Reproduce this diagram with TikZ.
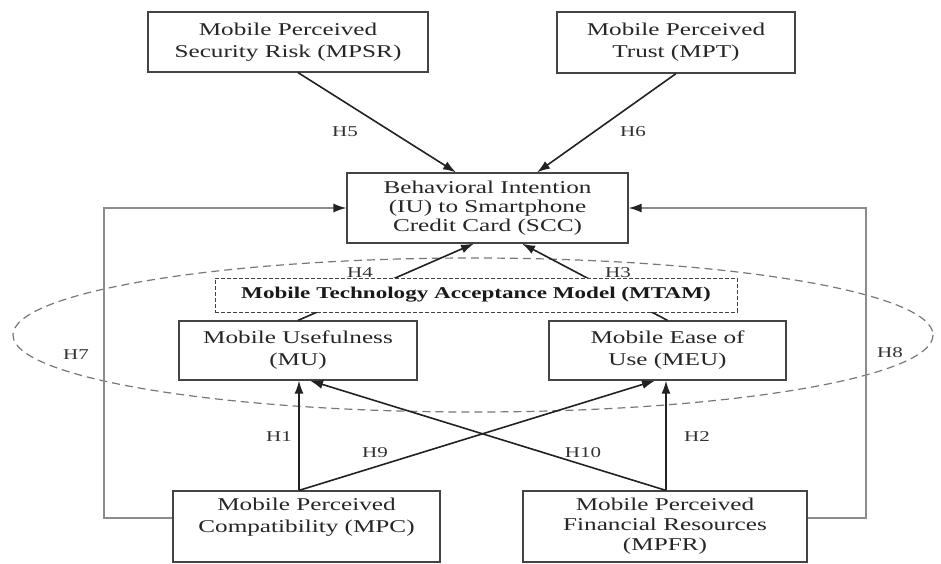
\documentclass[tikz,border=0pt]{standalone}
\usepackage{fontspec}
\setmainfont{Liberation Serif}[FakeStretch=1.4]
\usetikzlibrary{arrows.meta}
\definecolor{boxc}{HTML}{444444}
\definecolor{arrc}{HTML}{222222}
\definecolor{fbc}{HTML}{8C8C8C}
\definecolor{elc}{HTML}{777777}
\tikzset{
  box/.style={draw=boxc, line width=1.2pt, fill=white, inner sep=0pt, align=center,
    text=black!85, font=\fontsize{18}{22}\selectfont},
  arr/.style={draw=arrc, line width=1.6pt, -{Latex[length=13pt,width=9pt]}},
  fb/.style={draw=fbc, line width=1.4pt, -{Latex[length=13pt,width=9pt,color=arrc]}},
  hlab/.style={text=black!80, font=\fontsize{15}{17}\selectfont, inner sep=0pt},
  mtam/.style={draw=boxc, line width=1pt, dash pattern=on 4pt off 2pt, fill=white,
    inner sep=0pt, text=black!90, font=\bfseries\fontsize{16.5}{18}\selectfont},
}
\begin{document}
\begin{tikzpicture}[x=1pt,y=-1pt]
\useasboundingbox (0,0) rectangle (941,563);
% ellipse
\draw[elc, line width=1.2pt, dash pattern=on 8pt off 5pt] (473,335) ellipse [x radius=460, y radius=77];
% boxes
\node[box, minimum width=280pt, minimum height=60pt] (MPSR) at (288,42) {Mobile Perceived\\Security Risk (MPSR)};
\node[box, minimum width=238pt, minimum height=61pt] (MPT) at (676,42.5) {Mobile Perceived\\Trust (MPT)};
\node[box, minimum width=281pt, minimum height=70pt, font=\fontsize{18}{19}\selectfont] (SCC) at (487.5,208) {Behavioral Intention\\(IU) to Smartphone\\Credit Card (SCC)};
\node[box, minimum width=238pt, minimum height=59pt] (MU) at (298,350.5) {Mobile Usefulness\\(MU)};
\node[box, minimum width=237pt, minimum height=59pt] (MEU) at (667.5,350.5) {Mobile Ease of\\Use (MEU)};
\node[box, minimum width=267pt, minimum height=71pt] (MPC) at (306.5,526.5) {Mobile Perceived\\Compatibility (MPC)\\~};
\node[box, minimum width=284pt, minimum height=71pt, font=\fontsize{18}{20}\selectfont] (MPFR) at (665,526.5) {Mobile Perceived\\Financial Resources\\(MPFR)};
% top arrows
\draw[arr] ([xshift=10pt]MPSR.south) -- ([xshift=-31.5pt]SCC.north);
\draw[arr] (MPT.south) -- ([xshift=49.5pt]SCC.north);
% MTAM arrows (partly hidden by MTAM box)
\draw[arr] (MU.north) -- ([xshift=-13.5pt]SCC.south);
\draw[arr] (MEU.north) -- ([xshift=34.5pt]SCC.south);
\node[mtam, minimum width=522pt, minimum height=34pt] (MTAM) at (476,295) {Mobile Technology Acceptance Model (MTAM)};
% feedback lines
\coordinate (L) at (104,208);
\coordinate (R) at (866,208);
\draw[fb] ([yshift=8.5pt]MPC.west) -| (L) -- (SCC.west);
\draw[fb] ([yshift=8.5pt]MPFR.east) -| (R) -- (SCC.east);
% bottom arrows
\coordinate (pc) at ([xshift=-7.5pt]MPC.north);
\coordinate (pf) at ([xshift=1pt]MPFR.north);
\draw[arr] (pc) -- (pc |- MU.south);
\draw[arr] (pf) -- (pf |- MEU.south);
\draw[arr] (pc) -- ([xshift=-12.5pt]MEU.south);
\draw[arr] (pf) -- ([xshift=12pt]MU.south);
% labels
\node[hlab] (h5) at (345,132) {H5};
\node[hlab] (h6) at (633,132) {H6};
\node[hlab] (h4) at (360,273) {H4};
\node[hlab] (h3) at (618,273) {H3};
\node[hlab] (h7) at (76,355) {H7};
\node[hlab] (h8) at (890,353) {H8};
\node[hlab] (h1) at (279,437) {H1};
\node[hlab] (h2) at (697,437) {H2};
\node[hlab] (h9) at (375,453) {H9};
\node[hlab] (h10) at (583,453) {H10};
\end{tikzpicture}
\end{document}
